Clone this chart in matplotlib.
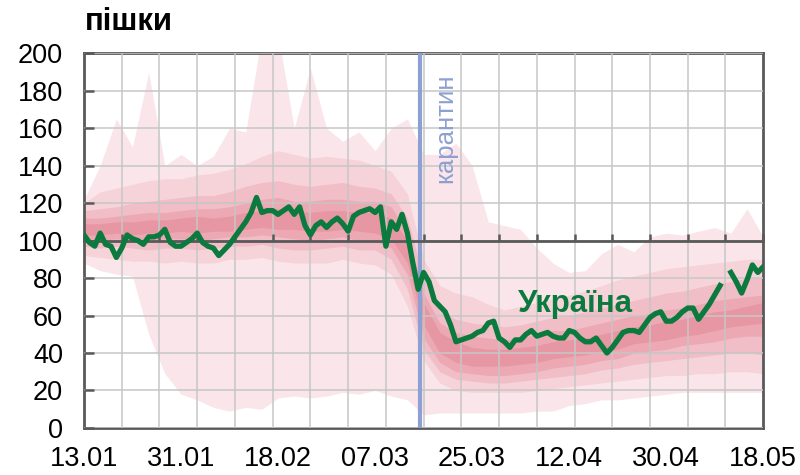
import matplotlib
matplotlib.use('Agg')
import matplotlib.pyplot as plt
import numpy as np

plt.rcParams['font.family'] = ['Liberation Sans', 'DejaVu Sans']

# --- data -------------------------------------------------------------
# days counted from 13.01
x_labels = ['13.01', '31.01', '18.02', '07.03', '25.03', '12.04', '30.04', '18.05']
label_days = [0, 18, 36, 54, 72, 90, 108, 126]
week_days = list(range(0, 127, 7))

ukraine = [103, 99, 97, 104, 98, 97, 91, 96, 103, 101, 100, 98, 102, 102, 103,
           106, 99, 97, 97, 99, 101, 104, 99, 97, 96, 92, 95, 98, 102, 106,
           110, 115, 123, 115, 116, 116, 114, 116, 118, 114, 118, 108, 103, 108, 110,
           107, 110, 112, 109, 105, 113, 115, 116, 117, 115, 118, 97, 110, 106, 114,
           104, 88, 74, 83, 78, 68, 65, 62, 55, 46, 47, 48, 49, 51, 52,
           56, 57, 48, 46, 43, 47, 47, 50, 52, 49, 50, 51, 49, 48, 48,
           52, 51, 48, 46, 46, 48, 44, 40, 43, 47, 51, 52, 52, 51, 55,
           59, 61, 62, 57, 57, 59, 62, 64, 64, 58, 62, 66, 71, 76, np.nan,
           83, 78, 72, 79, 87, 83, 86]
ukraine_days = list(range(len(ukraine)))

# percentile bands of other countries, sampled every 3 days
band_days = list(range(0, 127, 3))
b1_hi = [122, 140, 165, 150, 190, 140, 146, 140, 145, 160, 158, 210, 210, 160, 192,
         160, 153, 158, 148, 160, 165, 146, 146, 152, 140, 110, 108, 106, 96, 88,
         83, 84, 93, 98, 94, 102, 104, 103, 105, 107, 104, 117, 102]
b1_lo = [88, 84, 82, 81, 50, 29, 18, 15, 11, 9, 11, 10, 16, 17, 16,
         17, 19, 18, 20, 17, 15, 7, 8, 8, 8, 8, 8, 8, 9, 9,
         12, 13, 15, 15, 16, 17, 18, 19, 19, 19, 19, 19, 19]
b2_hi = [120, 126, 128, 130, 132, 133, 133, 135, 136, 138, 141, 145, 148, 146, 144,
         145, 144, 143, 140, 137, 125, 90, 76, 72, 70, 66, 63, 65, 67, 69,
         71, 73, 76, 79, 81, 83, 85, 86, 87, 88, 89, 90, 90]
b2_lo = [92, 91, 90, 89, 89, 88, 89, 88, 88, 90, 90, 91, 89, 88, 88,
         88, 90, 88, 87, 82, 65, 36, 24, 20, 19, 19, 19, 19, 20, 21,
         22, 23, 24, 25, 26, 27, 28, 28, 29, 29, 30, 30, 29]
b3_hi = [116, 117, 118, 120, 121, 122, 123, 124, 124, 126, 129, 131, 132, 130, 129,
         130, 131, 129, 128, 125, 112, 80, 62, 58, 56, 55, 54, 55, 57, 59,
         60, 62, 64, 66, 68, 70, 72, 73, 75, 77, 78, 80, 80]
b3_lo = [97, 96, 97, 96, 95, 96, 96, 95, 96, 97, 97, 98, 96, 95, 95,
         96, 97, 95, 95, 90, 74, 42, 30, 26, 25, 24, 24, 25, 26, 27,
         28, 29, 31, 32, 34, 35, 36, 37, 38, 39, 40, 40, 39]
b4_hi = [112, 112, 113, 114, 115, 115, 116, 117, 117, 118, 120, 122, 123, 121, 121,
         122, 122, 121, 121, 118, 104, 72, 56, 51, 49, 48, 47, 48, 50, 52,
         52, 54, 56, 58, 60, 61, 63, 64, 66, 68, 69, 70, 71]
b4_lo = [100, 100, 101, 100, 100, 101, 101, 100, 101, 102, 102, 103, 102, 101, 100,
         101, 102, 100, 100, 96, 82, 48, 35, 30, 29, 28, 28, 29, 30, 32,
         33, 34, 36, 37, 40, 41, 42, 44, 45, 46, 48, 49, 49]
b5_hi = [109, 109, 110, 110, 111, 111, 112, 113, 112, 113, 115, 116, 117, 116, 115,
         116, 116, 115, 115, 112, 100, 67, 51, 46, 43, 42, 42, 43, 44, 46,
         47, 48, 50, 52, 54, 55, 57, 58, 60, 62, 63, 65, 67]
b5_lo = [103, 103, 104, 103, 104, 104, 105, 104, 105, 105, 106, 107, 106, 106, 105,
         105, 106, 105, 104, 101, 88, 55, 40, 35, 33, 33, 33, 34, 35, 37,
         38, 39, 41, 42, 45, 46, 47, 49, 50, 52, 54, 55, 56]

quarantine_day = 62.3

# --- style ------------------------------------------------------------
dark = '#595959'
grid_col = '#c6c6c6'
green = '#0b7a3e'
blue = '#8e9fd2'
band_colors = ['#fae6ea', '#f6d3d9', '#f1bdc6', '#eca8b3', '#e797a4']

fig = plt.figure(figsize=(8, 4.75), dpi=100)
ax = fig.add_axes([0.105, 0.099, 0.849, 0.789])

bands = [(b1_lo, b1_hi), (b2_lo, b2_hi), (b3_lo, b3_hi), (b4_lo, b4_hi), (b5_lo, b5_hi)]
for (lo, hi), c in zip(bands, band_colors):
    ax.fill_between(band_days, lo, hi, color=c, lw=0, zorder=1)

ax.axvline(quarantine_day, color=blue, lw=3, zorder=3)
ax.plot(ukraine_days, ukraine, color=green, lw=3.8, zorder=4)

ax.text(67, 189, 'карантин', rotation=90, color=blue, fontsize=18.5,
        ha='center', va='top')
ax.text(80.5, 66, 'Україна', color=green, fontsize=22.5, weight='bold',
        ha='left', va='center', zorder=5)

ax.set_xlim(0, 126)
ax.set_ylim(0, 200)
ax.set_yticks(range(0, 201, 20))
ax.set_xticks(label_days)
ax.set_xticklabels(x_labels)
ax.set_xticks(week_days, minor=True)

ax.set_axisbelow(False)
ax.grid(which='minor', axis='x', color=grid_col, lw=1.1)
ax.grid(which='major', axis='y', color=grid_col, lw=1.1)

ax.tick_params(axis='x', which='both', length=0, pad=13, labelsize=19.5)
ax.tick_params(axis='y', direction='in', length=7, width=1.8, color=dark,
               pad=15, labelsize=19.5)
for s in ax.spines.values():
    s.set_color(dark)
    s.set_linewidth(2)

# horizontal axis crosses at 100
sec = ax.secondary_xaxis(0.5)
sec.set_xticks(week_days)
sec.tick_params(axis='x', which='both', direction='out', length=5, width=1.8,
                color=dark, top=True, bottom=False, labeltop=False, labelbottom=False)
for s in sec.spines.values():
    s.set_color(dark)
    s.set_linewidth(2)
sec.set_zorder(3.5)

fig.text(85 / 800, 1 - 30 / 475, 'пішки', fontsize=22.5, weight='bold', va='baseline')

fig.savefig('out.png', dpi=100)
